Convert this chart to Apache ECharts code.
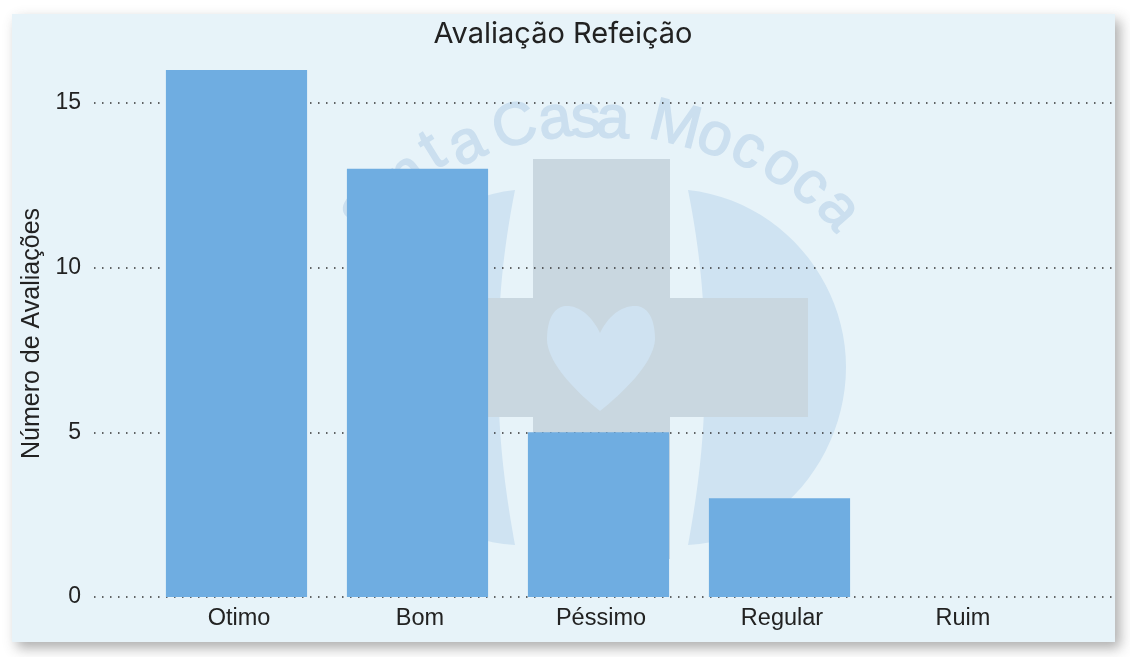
<!DOCTYPE html>
<html>
<head>
<meta charset="utf-8">
<title>Avaliação Refeição</title>
<style>
  html, body { margin: 0; padding: 0; background: #fff; }
  #main { width: 1130px; height: 657px; }
</style>
<script src="https://cdn.jsdelivr.net/npm/echarts@6/dist/echarts.min.js"></script>
</head>
<body>
<div id="main"></div>
<script>
var categories = ['Otimo', 'Bom', 'Péssimo', 'Regular', 'Ruim'];
var avaliacoes = [16, 13, 5, 3, 0];
var yTicks = { min: 0, max: 16, interval: 5 };

// watermark letters, the logo behind the bars
var marca = [
  ['S', 368, 214], ['a', 384, 194], ['n', 408, 176], ['t', 433, 152], ['a', 467, 145],
  ['C', 515, 128], ['a', 555, 121], ['s', 586, 120], ['a', 613, 121],
  ['M', 675, 127], ['o', 715, 138], ['c', 748, 150], ['o', 782, 167], ['c', 810, 186], ['a', 838, 210]
];

// graphic component has no svg path type, so sample the logo curves into polygons
function curva(start, segs) {
  var pts = [start], p0 = start;
  segs.forEach(function (s) {
    for (var i = 1; i <= 24; i++) {
      var t = i / 24, u = 1 - t;
      pts.push([
        u * u * u * p0[0] + 3 * u * u * t * s[0] + 3 * u * t * t * s[2] + t * t * t * s[4],
        u * u * u * p0[1] + 3 * u * u * t * s[1] + 3 * u * t * t * s[3] + t * t * t * s[5]
      ]);
    }
    p0 = [s[4], s[5]];
  });
  return pts;
}

var fundo = [
  { type: 'rect', z: -10, shape: { x: 12, y: 14, width: 1103, height: 628 },
    style: { fill: '#e7f3f9', shadowBlur: 12, shadowColor: 'rgba(60,60,60,0.42)', shadowOffsetX: 5, shadowOffsetY: 6 } },
  { type: 'polygon', z: -9, shape: { points: curva([688, 190], [[780, 200, 846, 280, 846, 367], [846, 455, 780, 540, 688, 545], [700, 480, 706, 420, 704, 367], [706, 310, 700, 250, 688, 190]]) },
    style: { fill: '#cfe3f2' } },
  { type: 'polygon', z: -9, shape: { points: curva([515, 190], [[423, 200, 357, 280, 357, 367], [357, 455, 423, 540, 515, 545], [503, 480, 497, 420, 499, 367], [497, 310, 503, 250, 515, 190]]) },
    style: { fill: '#cfe3f2' } },
  { type: 'rect', z: -8, shape: { x: 533, y: 159, width: 137, height: 400 }, style: { fill: '#c9d7e0' } },
  { type: 'rect', z: -8, shape: { x: 395, y: 298, width: 413, height: 119 }, style: { fill: '#c9d7e0' } },
  { type: 'polygon', z: -7, shape: { points: curva([600, 333], [[590, 312, 575, 305, 565, 306], [552, 308, 547, 322, 547, 340], [548, 365, 580, 395, 600, 411], [620, 395, 653, 365, 655, 340], [655, 322, 650, 308, 637, 306], [626, 305, 610, 312, 600, 333]]) },
    style: { fill: '#cfe2f1' } }
];
marca.forEach(function (m) {
  fundo.push({
    type: 'text', z: -6, silent: true,
    x: m[1], y: m[2],
    rotation: -Math.atan2(m[1] - 600, 420 - m[2]),
    style: { text: m[0], fill: '#cbdfef', stroke: '#cbdfef', lineWidth: 1.5, font: '60px "Liberation Sans"', align: 'center', verticalAlign: 'middle' }
  });
});

var myChart = echarts.init(document.getElementById('main'));
var option = {
  backgroundColor: '#fff',
  animation: false,
  textStyle: { fontFamily: '"Liberation Sans", Arial, sans-serif' },
  graphic: { elements: fundo },
  title: {
    text: 'Avaliação Refeição',
    left: 558,
    top: 15,
    textAlign: 'center',
    textStyle: { fontFamily: 'Inter', fontSize: 29, fontWeight: 'normal', color: '#222' }
  },
  grid: [
    { left: 94, right: 18, top: 70, height: 527 },  // gridlines run wider than the bars
    { left: 146, width: 905, top: 70, height: 527 }
  ],
  xAxis: [
    { type: 'category', gridIndex: 0, data: [], show: false },
    {
      type: 'category',
      gridIndex: 1,
      data: categories,
      axisLine: { show: false },
      axisTick: { show: false },
      axisLabel: { color: '#222', fontSize: 23.5, margin: 10, padding: [0, 0, 0, 5] }
    }
  ],
  yAxis: [
    {
      type: 'value',
      gridIndex: 0,
      min: yTicks.min,
      max: yTicks.max,
      interval: yTicks.interval,
      name: 'Número de Avaliações',
      nameLocation: 'middle',
      nameGap: 48,
      nameTextStyle: { color: '#222', fontSize: 25 },
      axisLine: { show: false },
      axisTick: { show: false },
      axisLabel: { color: '#222', fontSize: 23, margin: 13, lineHeight: 23, padding: [4, 0, 0, 0], verticalAlign: 'middle', showMaxLabel: false },
      splitLine: { showMaxLine: false, lineStyle: { color: '#333', type: [1.5, 6.5], width: 1.5 } }
    },
    {
      type: 'value',
      gridIndex: 1,
      min: yTicks.min,
      max: yTicks.max,
      interval: yTicks.interval,
      show: false,
      splitLine: { show: false }
    }
  ],
  series: [{
    name: 'Avaliações',
    type: 'bar',
    xAxisIndex: 1,
    yAxisIndex: 1,
    barCategoryGap: '22%',
    itemStyle: { color: '#6fade1' },
    data: avaliacoes
  }]
};
myChart.setOption(option);
</script>
</body>
</html>
